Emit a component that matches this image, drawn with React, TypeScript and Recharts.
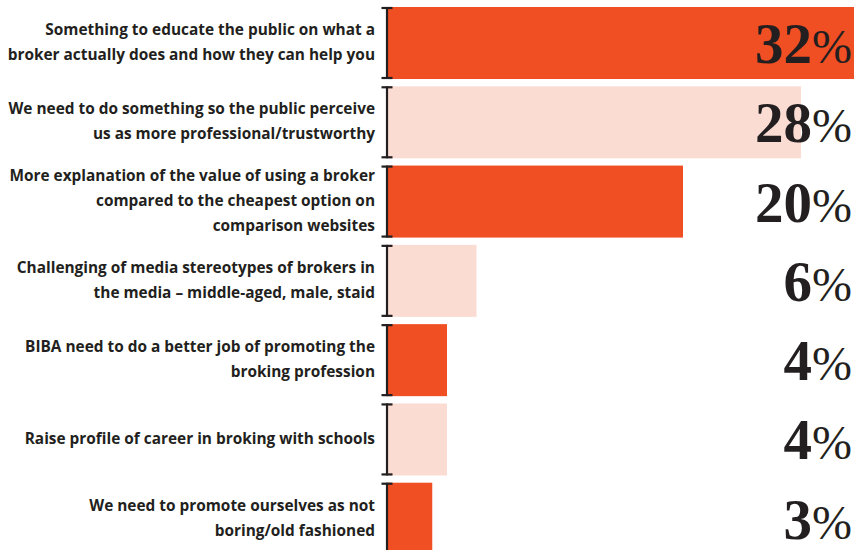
import { BarChart, Bar, XAxis, YAxis, Cell, LabelList } from 'recharts';

const categories = [
  'Something to educate the public on what a\nbroker actually does and how they can help you',
  'We need to do something so the public perceive\nus as more professional/trustworthy',
  'More explanation of the value of using a broker\ncompared to the cheapest option on\ncomparison websites',
  'Challenging of media stereotypes of brokers in\nthe media – middle-aged, male, staid',
  'BIBA need to do a better job of promoting the\nbroking profession',
  'Raise profile of career in broking with schools',
  'We need to promote ourselves as not\nboring/old fashioned',
];
const values = [32, 28, 20, 6, 4, 4, 3];
const barColors = ['#f04e23', '#fbdcd3'];

const data = categories.map((name, i) => ({ name, value: values[i] }));

const INK = '#231f20';

function CategoryTick(props: any) {
  const { x, y, payload } = props;
  const lines: string[] = String(payload.value).split('\n');
  const lineH = 25;
  const first = y - ((lines.length - 1) * lineH) / 2 + 5;
  return (
    <text
      x={x}
      y={first}
      textAnchor="end"
      fill={INK}
      fontFamily="'Open Sans', 'Noto Sans', sans-serif"
      fontWeight={700}
      fontSize={15.4}
    >
      {lines.map((l, i) => (
        <tspan key={i} x={x} y={first + i * lineH}>
          {l}
        </tspan>
      ))}
    </text>
  );
}

function BracketBar(props: any) {
  const { x, y, width, height, fill } = props;
  const lx = x - 1;
  return (
    <g>
      <rect x={x} y={y} width={width} height={height} fill={fill} />
      <line x1={lx} y1={y} x2={lx} y2={y + height} stroke={INK} strokeWidth={2.2} />
      <line x1={lx - 5.5} y1={y + 1} x2={lx + 5.5} y2={y + 1} stroke={INK} strokeWidth={2.2} />
      <line x1={lx - 5.5} y1={y + height - 1} x2={lx + 5.5} y2={y + height - 1} stroke={INK} strokeWidth={2.2} />
    </g>
  );
}

function PctLabel(props: any) {
  const { y, height, value } = props;
  return (
    <text
      x={852}
      y={y + height / 2 + 20}
      textAnchor="end"
      fill={INK}
      fontFamily="'Liberation Serif', 'DejaVu Serif', serif"
    >
      <tspan fontWeight={700} fontSize={57}>{value}</tspan>
      <tspan fontWeight={400} fontSize={48}>%</tspan>
    </text>
  );
}

export default function App() {
  return (
    <div style={{ width: 854, height: 550, overflow: 'hidden', background: '#fff' }}>
      <style>{'body{margin:0}'}</style>
      <BarChart
        width={860}
        height={558}
        data={data}
        layout="vertical"
        margin={{ top: 3, right: 0, bottom: 0, left: 0 }}
        barSize={72}
      >
        <XAxis type="number" domain={[0, 32]} hide />
        <YAxis
          type="category"
          dataKey="name"
          width={388}
          axisLine={false}
          tickLine={false}
          tickSize={0}
          tickMargin={13}
          interval={0}
          tick={<CategoryTick />}
        />
        <Bar dataKey="value" isAnimationActive={false} shape={<BracketBar />}>
          {data.map((_, i) => (
            <Cell key={`cell-${i}`} fill={barColors[i % 2]} />
          ))}
          <LabelList dataKey="value" content={<PctLabel />} />
        </Bar>
      </BarChart>
    </div>
  );
}
